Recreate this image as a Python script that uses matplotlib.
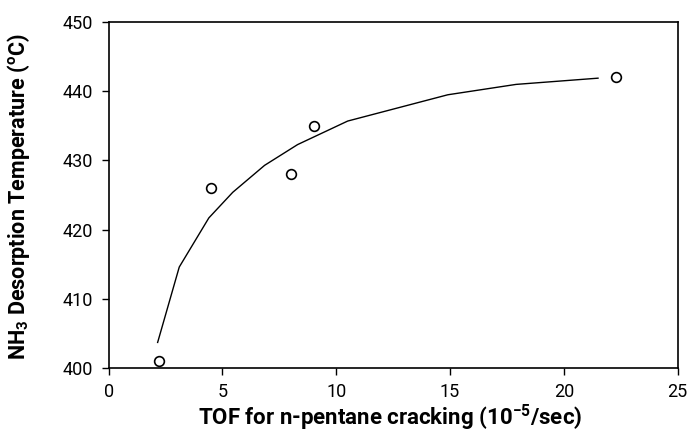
import numpy as np
import matplotlib
matplotlib.use('Agg')
import matplotlib.pyplot as plt

# measured points: TOF (10^-5/sec) vs NH3 desorption temperature (C)
tof = [2.2, 4.5, 8.0, 9.0, 22.3]
temp = [401.0, 426.0, 428.0, 435.0, 442.0]

# fitted trend curve
fit_x = [2.15, 3.1, 4.4, 5.45, 6.85, 8.3, 10.5, 14.9, 17.9, 21.5]
fit_y = [403.7, 414.6, 421.7, 425.4, 429.3, 432.3, 435.7, 439.5, 441.0, 441.9]

x_ticks = [0, 5, 10, 15, 20, 25]
y_ticks = [400, 410, 420, 430, 440, 450]

plt.rcParams['font.family'] = ['Roboto', 'DejaVu Sans']
plt.rcParams['mathtext.fontset'] = 'custom'
plt.rcParams['mathtext.rm'] = 'Roboto'
plt.rcParams['mathtext.bf'] = 'Roboto:bold'
plt.rcParams['mathtext.default'] = 'bf'

fig = plt.figure(figsize=(6.88, 4.34), dpi=100)
ax = fig.add_axes([0.158, 0.152, 0.827, 0.797])

ax.plot(fit_x, fit_y, color='black', lw=1.0)
ax.plot(tof, temp, 'o', ms=7, mfc='white', mec='black', mew=1.2)

ax.set_xlim(0, 25)
ax.set_ylim(400, 450)
ax.set_xticks(x_ticks)
ax.set_yticks(y_ticks)
ax.tick_params(direction='out', length=5, width=1, labelsize=13, pad=6)
for s in ax.spines.values():
    s.set_linewidth(1.2)

ax.set_xlabel('TOF for n-pentane cracking (10$^{-5}$/sec)', fontsize=16,
              fontweight='bold')
ax.set_ylabel('NH$_3$ Desorption Temperature ($^{o}$C)', fontsize=15.5,
              fontweight='bold')
ax.xaxis.set_label_coords(0.495, -0.10)
ax.yaxis.set_label_coords(-0.135, 0.494)

fig.savefig('out.png', dpi=100)
